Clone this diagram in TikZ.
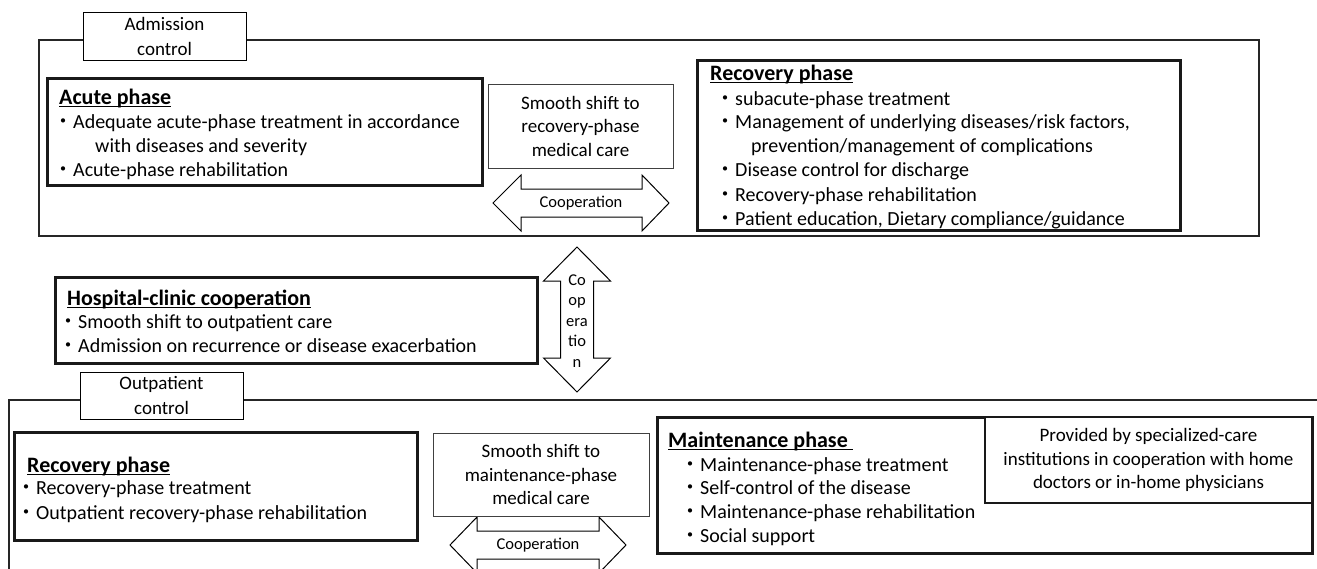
\documentclass[tikz,border=0pt]{standalone}
\usepackage{fontspec}
\setmainfont{Carlito}
\newfontfamily\cjk{Noto Sans CJK JP}
\usepackage{tikz}
\newcommand{\dotitem}{{\cjk ・}}
\newcommand{\undl}[1]{\setbox0\hbox{#1}\rlap{\vrule width\wd0 height -2pt depth 3.1pt}\box0}

\begin{document}
\begin{tikzpicture}[x=1pt, y=-1pt,
  frame/.style={draw=black!85, line width=1.2pt},
  phasebox/.style={draw=black!90, line width=3pt, fill=white, anchor=north west, outer sep=0pt},
  tagbox/.style={draw, line width=1pt, fill=white, align=center, anchor=north west, outer sep=0pt,
    inner sep=0pt, font=\fontsize{19}{25}\selectfont},
  shiftbox/.style={draw=black!75, line width=1pt, fill=white, align=center, anchor=north west,
    outer sep=0pt, inner sep=0pt, font=\fontsize{19}{23.5}\selectfont},
  blockarrow/.style={draw, line width=1pt, fill=white, line join=miter},
  txt/.style={anchor=base west, inner sep=0pt, font=\fontsize{20}{24}\selectfont},
  ttl/.style={anchor=base west, inner sep=0pt, font=\fontsize{22}{24}\selectfont\bfseries},
  coop/.style={inner sep=0pt, align=center, font=\fontsize{16.5}{20.5}\selectfont}]
  \useasboundingbox (0,0) rectangle (1317,568);

  % Frames
  \draw[frame] (39,40) rectangle (1259,236);
  \draw[frame] (9,580) -- (9,400) -- (1325,400);

  % Cooperation arrows
  \draw[blockarrow] (493,203) -- (521,175) -- (521,189) -- (642,189) -- (642,175) -- (669,203)
    -- (642,231) -- (642,217) -- (521,217) -- (521,231) -- cycle;
  \draw[blockarrow] (577,247) -- (610.5,281) -- (593.5,281) -- (593.5,358) -- (610.5,358) -- (577,392)
    -- (543.5,358) -- (560.5,358) -- (560.5,281) -- (543.5,281) -- cycle;
  \draw[blockarrow] (450,545) -- (477,517) -- (477,531) -- (599,531) -- (599,517) -- (626,545)
    -- (599,573) -- (599,559) -- (477,559) -- (477,573) -- cycle;
  \node[coop] (coop-h1) at (581,203) {Cooperation};
  \node[coop] (coop-v) at (577,321) {Co\\op\\era\\tio\\n};
  \node[coop] (coop-h2) at (538,545) {Cooperation};

  % Boxes
  \node[tagbox, minimum width=163, minimum height=48] (admit) at (83,12) {Admission\\control};
  \node[tagbox, minimum width=163, minimum height=47] (outpt) at (80,372) {Outpatient\\control};
  \node[phasebox, minimum width=435, minimum height=107] (acute) at (47,78) {};
  \node[phasebox, minimum width=483, minimum height=170] (recov1) at (697,60) {};
  \node[phasebox, minimum width=482, minimum height=86] (hosp) at (55,277) {};
  \node[phasebox, minimum width=403, minimum height=108] (recov2) at (14,432) {};
  \node[phasebox, minimum width=655, minimum height=136] (maint) at (657,417) {};
  \node[shiftbox, minimum width=185, minimum height=84] (shift1) at (488,84)
       {Smooth shift to\\recovery-phase\\medical care};
  \node[shiftbox, minimum width=216, minimum height=83] (shift2) at (433,433)
       {Smooth shift to\\maintenance-phase\\medical care};
  \node[shiftbox, draw=black!90, line width=2pt, minimum width=327, minimum height=86] (provided) at (985,417)
       {Provided by specialized-care\\institutions in cooperation with home\\doctors or in-home physicians};

  % Acute phase
  \node[ttl] (acute-t) at (59,104) {\undl{Acute phase}};
  \node[txt] (acute-1) at (53,128) {\dotitem Adequate acute-phase treatment in accordance};
  \node[txt] (acute-2) at (95,152) {with diseases and severity};
  \node[txt] (acute-3) at (53,176) {\dotitem Acute-phase rehabilitation};

  % Recovery phase (admission)
  \node[ttl] (recov1-t) at (710,80) {\undl{Recovery phase}};
  \node[txt] (recov1-1) at (715,105) {\dotitem subacute-phase treatment};
  \node[txt] (recov1-2) at (715,128) {\dotitem Management of underlying diseases/risk factors,};
  \node[txt] (recov1-3) at (751,152) {prevention/management of complications};
  \node[txt] (recov1-4) at (715,176) {\dotitem Disease control for discharge};
  \node[txt] (recov1-5) at (715,201) {\dotitem Recovery-phase rehabilitation};
  \node[txt] (recov1-6) at (715,225) {\dotitem Patient education, Dietary compliance/guidance};

  % Hospital-clinic cooperation
  \node[ttl] (hosp-t) at (67,305) {\undl{Hospital-clinic cooperation}};
  \node[txt] (hosp-1) at (58,328) {\dotitem Smooth shift to outpatient care};
  \node[txt] (hosp-2) at (58,352) {\dotitem Admission on recurrence or disease exacerbation};

  % Recovery phase (outpatient)
  \node[ttl] (recov2-t) at (27,472) {\undl{Recovery phase}};
  \node[txt] (recov2-1) at (16,494) {\dotitem Recovery-phase treatment};
  \node[txt] (recov2-2) at (16,519) {\dotitem Outpatient recovery-phase rehabilitation};

  % Maintenance phase
  \node[ttl] (maint-t) at (668,447) {\undl{Maintenance phase\ }};
  \node[txt] (maint-1) at (680,471) {\dotitem Maintenance-phase treatment};
  \node[txt] (maint-2) at (680,494) {\dotitem Self-control of the disease};
  \node[txt] (maint-3) at (680,518) {\dotitem Maintenance-phase rehabilitation};
  \node[txt] (maint-4) at (680,542) {\dotitem Social support};
\end{tikzpicture}
\end{document}
